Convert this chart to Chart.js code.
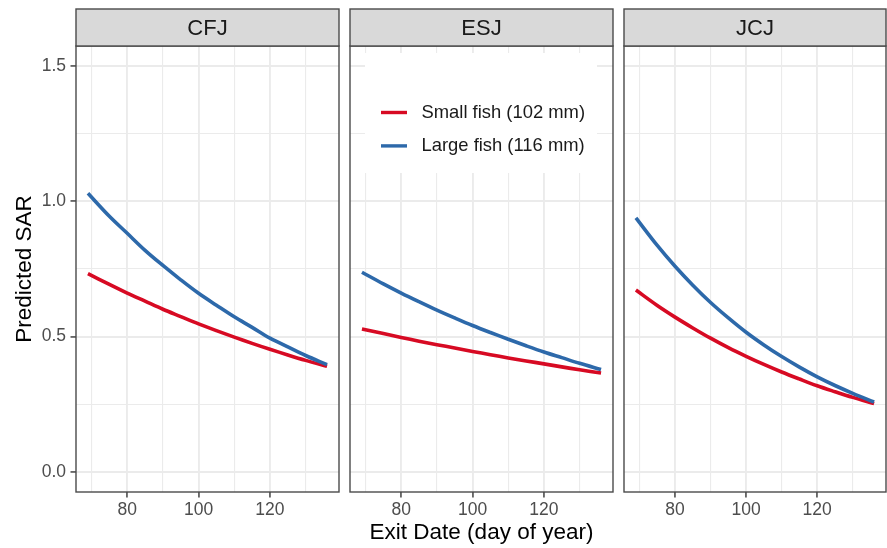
<!DOCTYPE html>
<html><head><meta charset="utf-8">
<script src="https://cdn.jsdelivr.net/npm/chart.js@4/dist/chart.umd.min.js"></script>
<style>
html,body{margin:0;padding:0;background:#fff;width:887px;height:548px;overflow:hidden;position:relative}
canvas{position:absolute;top:0}
</style></head><body>
<canvas id="c0" width="340" height="548" style="left:0px"></canvas>
<canvas id="c1" width="280" height="548" style="left:340px"></canvas>
<canvas id="c2" width="273" height="548" style="left:614px"></canvas>
<script>
// ---- data ----
const panels = ['CFJ', 'ESJ', 'JCJ'];
const seriesLabels = ['Small fish (102 mm)', 'Large fish (116 mm)'];
const days = [69, 75, 80, 85, 90, 95, 100, 105, 110, 115, 120, 125, 130, 136];
const cfjSmall = [0.733, 0.693, 0.661, 0.631, 0.601, 0.574, 0.547, 0.522, 0.498, 0.475, 0.453, 0.432, 0.412, 0.390];
const cfjLarge = [1.030, 0.945, 0.882, 0.819, 0.763, 0.710, 0.660, 0.616, 0.573, 0.534, 0.494, 0.462, 0.430, 0.396];
const esjSmall = [0.528, 0.511, 0.497, 0.483, 0.470, 0.458, 0.445, 0.433, 0.421, 0.410, 0.399, 0.388, 0.377, 0.365];
const esjLarge = [0.738, 0.695, 0.661, 0.629, 0.598, 0.569, 0.541, 0.515, 0.490, 0.466, 0.443, 0.422, 0.401, 0.378];
const jcjSmall = [0.672, 0.615, 0.572, 0.532, 0.494, 0.459, 0.427, 0.397, 0.369, 0.343, 0.318, 0.296, 0.275, 0.252];
const jcjLarge = [0.939, 0.837, 0.760, 0.690, 0.626, 0.569, 0.516, 0.469, 0.426, 0.387, 0.351, 0.319, 0.290, 0.258];
const xMajorTicks = [80, 100, 120];
const xMinorTicks = [70, 90, 110, 130];
const yMajorTicks = [0, 0.5, 1.0, 1.5];
const yMinorTicks = [0.25, 0.75, 1.25];

// ---- style ----
const RED = '#D70A23';
const BLUE = '#2D69AA';
const GRID = '#EBEBEB';
const BORDER = '#4A4A4A';
const FONT = '"Liberation Sans", Arial, Helvetica, sans-serif';
Chart.defaults.font.family = FONT;

const isMajorX = v => xMajorTicks.some(t => Math.abs(t - v) < 1e-6);
const isMajorY = v => yMajorTicks.some(t => Math.abs(t - v) < 1e-6);

const panelPlugin = {
  id: 'panelDecor',
  afterDraw(chart, args, opts) {
    const { ctx, chartArea: a } = chart;
    const w = a.right - a.left, sh = 37;
    ctx.save();
    ctx.strokeStyle = BORDER; ctx.lineWidth = 1.4;
    ctx.strokeRect(a.left, a.top, w, a.bottom - a.top);
    const top = a.top - sh;
    ctx.fillStyle = '#D9D9D9';
    ctx.fillRect(a.left, top, w, sh);
    ctx.strokeRect(a.left, top, w, sh);
    ctx.fillStyle = '#1A1A1A';
    ctx.font = '22px ' + FONT;
    ctx.textAlign = 'center'; ctx.textBaseline = 'middle';
    ctx.fillText(opts.title, (a.left + a.right) / 2, top + sh / 2 + 1);
    ctx.restore();
  }
};

const legendPlugin = {
  id: 'insetLegend',
  beforeDatasetsDraw(chart) {
    const { ctx, chartArea: a } = chart;
    ctx.save();
    ctx.fillStyle = '#FFFFFF';
    ctx.fillRect(a.left + 15, a.top + 7, 232, 120);
    chart.data.datasets.forEach((ds, i) => {
      const y = a.top + 66.5 + i * 33.4;
      ctx.strokeStyle = ds.borderColor; ctx.lineWidth = 3.4; ctx.lineCap = 'butt';
      ctx.beginPath(); ctx.moveTo(a.left + 31, y); ctx.lineTo(a.left + 57, y); ctx.stroke();
      ctx.fillStyle = '#1A1A1A';
      ctx.font = '18.4px ' + FONT;
      ctx.textAlign = 'left'; ctx.textBaseline = 'middle';
      ctx.fillText(ds.label, a.left + 71.5, y + 0.5);
    });
    ctx.restore();
  }
};

function pts(vals) { return days.map((d, i) => ({ x: d, y: vals[i] })); }

function makeChart(id, idx, small, large, opts) {
  const first = idx === 0, mid = idx === 1;
  const plugins = [panelPlugin];
  if (mid) plugins.push(legendPlugin);
  return new Chart(document.getElementById(id), {
    type: 'line',
    data: {
      datasets: [
        { label: seriesLabels[0], data: pts(small), borderColor: RED, backgroundColor: RED, borderWidth: 3.6, pointRadius: 0, tension: 0.35, order: 1 },
        { label: seriesLabels[1], data: pts(large), borderColor: BLUE, backgroundColor: BLUE, borderWidth: 3.6, pointRadius: 0, tension: 0.35, order: 0 }
      ]
    },
    plugins,
    options: {
      responsive: false, animation: false, devicePixelRatio: 1,
      layout: { padding: opts.padding },
      plugins: { legend: { display: false }, tooltip: { enabled: false }, panelDecor: { title: panels[idx] } },
      scales: {
        x: {
          type: 'linear', min: 65.65, max: 139.35,
          afterBuildTicks: s => { s.ticks = xMinorTicks.concat(xMajorTicks).sort((p, q) => p - q).map(v => ({ value: v })); },
          afterFit: s => { s.height = 56; },
          border: { display: false },
          grid: {
            color: GRID,
            lineWidth: c => (c.tick && isMajorX(c.tick.value)) ? 1.9 : 1.1,
            drawTicks: true, tickLength: 5.5, tickWidth: 1.4,
            tickColor: c => (c.tick && isMajorX(c.tick.value)) ? '#333333' : 'rgba(0,0,0,0)'
          },
          ticks: {
            autoSkip: false, maxRotation: 0, padding: 2.5, color: '#4D4D4D',
            font: { size: 17.5 },
            callback: v => isMajorX(v) ? String(v) : ''
          },
          title: mid ? { display: true, text: 'Exit Date (day of year)', color: '#000', font: { size: 22.5 }, padding: { top: 0, bottom: 1.5 } } : { display: false }
        },
        y: {
          type: 'linear', min: -0.075, max: 1.575,
          afterBuildTicks: s => { s.ticks = yMajorTicks.concat(yMinorTicks).sort((p, q) => p - q).map(v => ({ value: v })); },
          afterFit: s => { s.width = first ? 76 : 0; },
          border: { display: false },
          grid: {
            color: GRID,
            lineWidth: c => (c.tick && isMajorY(c.tick.value)) ? 1.9 : 1.1,
            drawTicks: first, tickLength: 5.5, tickWidth: 1.4,
            tickColor: c => (c.tick && isMajorY(c.tick.value)) ? '#333333' : 'rgba(0,0,0,0)'
          },
          ticks: {
            display: first, autoSkip: false, padding: 4.5, color: '#4D4D4D',
            font: { size: 17.5 },
            callback: v => isMajorY(v) ? v.toFixed(1) : ''
          },
          title: first ? { display: true, text: 'Predicted SAR', color: '#000', font: { size: 22.5 }, padding: { top: 11, bottom: 0 } } : { display: false }
        }
      }
    }
  });
}

makeChart('c0', 0, cfjSmall, cfjLarge, { padding: { top: 46, right: 1, bottom: 0, left: 0 } });
makeChart('c1', 1, esjSmall, esjLarge, { padding: { top: 46, right: 7, bottom: 0, left: 10 } });
makeChart('c2', 2, jcjSmall, jcjLarge, { padding: { top: 46, right: 1, bottom: 0, left: 10 } });
</script>
</body></html>
